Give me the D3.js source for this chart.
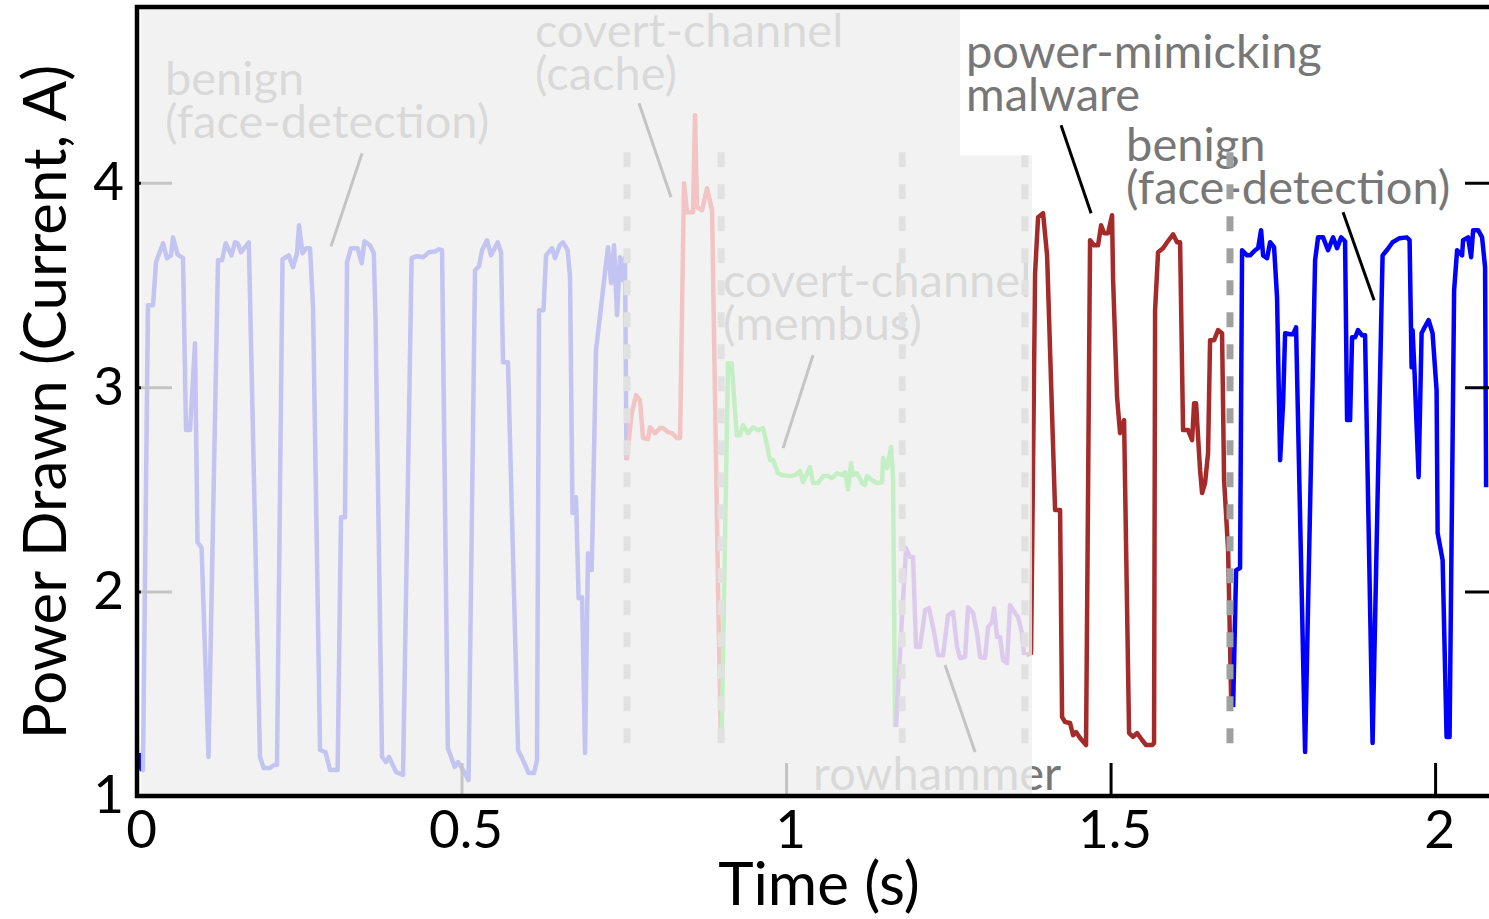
<!DOCTYPE html>
<html>
<head>
<meta charset="utf-8">
<script src="https://cdn.jsdelivr.net/npm/d3@7"></script>
<style>
	body { margin: 0; background: #fff; }
	svg { display: block; }
	text { font-family: Lato, "Open Sans", sans-serif; }
</style>
</head>
<body>
<svg id="chart" width="1489" height="919"></svg>
<script>
// [time (s), current (A)], one array per workload
const benignFirst = [
	[0.004, 1.21], [0.007, 1.13], [0.0092, 1.127], [0.0169, 3.401], [0.0247, 3.401], [0.0293, 3.611],
	[0.0401, 3.704], [0.0462, 3.631], [0.0524, 3.645], [0.0555, 3.733], [0.0624, 3.650], [0.0709, 3.631],
	[0.0755, 2.790], [0.0817, 2.790], [0.0894, 3.215], [0.0932, 2.242], [0.0995, 2.213], [0.1102, 1.191],
	[0.1248, 3.621], [0.1310, 3.621], [0.1367, 3.704], [0.1456, 3.645], [0.1510, 3.709], [0.1552, 3.704],
	[0.1602, 3.660], [0.1723, 3.709], [0.1895, 1.191], [0.1951, 1.137], [0.2049, 1.137], [0.2111, 1.152],
	[0.2157, 1.152], [0.2242, 3.626], [0.2337, 3.645], [0.2404, 3.587], [0.2465, 3.655], [0.2496, 3.792],
	[0.2550, 3.655], [0.2604, 3.680], [0.2666, 3.680], [0.2712, 3.391], [0.2820, 1.225], [0.2904, 1.215],
	[0.2974, 1.127], [0.3091, 1.127], [0.3143, 2.364], [0.3205, 2.364], [0.3236, 3.611], [0.3297, 3.680],
	[0.3399, 3.680], [0.3462, 3.606], [0.3505, 3.714], [0.3590, 3.694], [0.3649, 3.655], [0.3675, 3.328],
	[0.3775, 1.191], [0.3837, 1.166], [0.3883, 1.191], [0.3991, 1.117], [0.4099, 1.103], [0.4231, 3.631],
	[0.4311, 3.641], [0.4407, 3.636], [0.4499, 3.660], [0.4602, 3.665], [0.4646, 3.675], [0.4700, 3.670],
	[0.4789, 1.235], [0.4895, 1.142], [0.4946, 1.166], [0.5023, 1.127], [0.5108, 1.078], [0.5208, 3.572],
	[0.5270, 3.592], [0.5316, 3.670], [0.5393, 3.719], [0.5455, 3.645], [0.5558, 3.709], [0.5609, 3.660],
	[0.5639, 3.122], [0.5716, 3.122], [0.5871, 1.225], [0.5932, 1.186], [0.6035, 1.112], [0.6117, 1.112],
	[0.6163, 1.176], [0.6194, 3.377], [0.6263, 3.377], [0.6302, 3.645], [0.6394, 3.680], [0.6441, 3.631],
	[0.6513, 3.694], [0.6564, 3.709], [0.6635, 3.670], [0.6672, 3.538], [0.6710, 2.384], [0.6764, 2.462],
	[0.6804, 1.968], [0.6857, 1.973], [0.6903, 1.210], [0.6949, 2.188], [0.7006, 2.105], [0.7072, 3.181],
	[0.7149, 3.391], [0.7219, 3.587], [0.7257, 3.685], [0.7304, 3.509], [0.7350, 3.694], [0.7396, 3.352],
	[0.7442, 3.636], [0.7488, 3.523], [0.7519, 3.636], [0.7542, 2.643]
];
const cacheChannel = [
	[0.7545, 2.643], [0.7622, 2.873], [0.7689, 2.961], [0.7750, 2.936], [0.7797, 2.751], [0.7874, 2.746],
	[0.7904, 2.804], [0.7982, 2.775], [0.8059, 2.800], [0.8105, 2.800], [0.8182, 2.780], [0.8243, 2.775],
	[0.8320, 2.751], [0.8367, 2.751], [0.8428, 3.998], [0.8475, 3.856], [0.8567, 3.856], [0.8598, 4.330],
	[0.8629, 3.880], [0.8706, 3.866], [0.8783, 3.973], [0.8860, 3.866], [0.8952, 2.022], [0.8994, 1.308]
];
const membusChannel = [
	[0.9009, 1.308], [0.9106, 3.117], [0.9163, 3.117], [0.9240, 2.765], [0.9291, 2.765], [0.9337, 2.814],
	[0.9414, 2.775], [0.9492, 2.804], [0.9569, 2.790], [0.9646, 2.800], [0.9707, 2.716], [0.9753, 2.643],
	[0.9800, 2.643], [0.9877, 2.579], [0.9938, 2.570], [1.0062, 2.565], [1.0139, 2.570], [1.0216, 2.589],
	[1.0262, 2.535], [1.0370, 2.609], [1.0416, 2.531], [1.0493, 2.531], [1.0570, 2.565], [1.0647, 2.565],
	[1.0709, 2.555], [1.0786, 2.579], [1.0863, 2.570], [1.0909, 2.584], [1.0955, 2.501], [1.1002, 2.628],
	[1.1032, 2.570], [1.1094, 2.579], [1.1171, 2.531], [1.1217, 2.521], [1.1248, 2.565], [1.1325, 2.545],
	[1.1402, 2.531], [1.1479, 2.535], [1.1495, 2.653], [1.1556, 2.604], [1.1618, 2.707], [1.1649, 2.560],
	[1.1680, 1.337]
];
const rowhammer = [
	[1.1695, 1.337], [1.1787, 1.875], [1.1849, 2.213], [1.1911, 2.169], [1.1957, 2.169], [1.2003, 1.729],
	[1.2065, 1.729], [1.2142, 1.910], [1.2203, 1.919], [1.2265, 1.826], [1.2342, 1.689], [1.2419, 1.689],
	[1.2496, 1.885], [1.2573, 1.900], [1.2635, 1.729], [1.2681, 1.675], [1.2758, 1.680], [1.2804, 1.924],
	[1.2881, 1.895], [1.2943, 1.797], [1.2989, 1.680], [1.3066, 1.675], [1.3112, 1.826], [1.3174, 1.851],
	[1.3205, 1.919], [1.3251, 1.778], [1.3297, 1.778], [1.3344, 1.665], [1.3405, 1.650], [1.3451, 1.934],
	[1.3529, 1.895], [1.3575, 1.875], [1.3636, 1.797], [1.3667, 1.689]
];
const powerMimicking = [
	[1.3698, 1.689], [1.3775, 1.699], [1.3837, 3.557], [1.3883, 3.831], [1.3960, 3.851], [1.4022, 3.645],
	[1.4145, 2.399], [1.4222, 2.399], [1.4253, 1.386], [1.4299, 1.362], [1.4376, 1.357], [1.4422, 1.298],
	[1.4468, 1.313], [1.4530, 1.284], [1.4622, 1.249], [1.4684, 3.719], [1.4746, 3.694], [1.4807, 3.694],
	[1.4854, 3.792], [1.4900, 3.753], [1.4961, 3.753], [1.5023, 3.841], [1.5039, 3.523], [1.5100, 2.951],
	[1.5146, 2.775], [1.5208, 2.839], [1.5285, 1.308], [1.5347, 1.289], [1.5408, 1.308], [1.5485, 1.274],
	[1.5547, 1.249], [1.5639, 1.249], [1.5670, 1.259], [1.5686, 3.377], [1.5732, 3.660], [1.5809, 3.680],
	[1.5871, 3.709], [1.5963, 3.748], [1.6025, 3.709], [1.6071, 3.709], [1.6117, 2.790], [1.6194, 2.790],
	[1.6256, 2.741], [1.6287, 2.922], [1.6317, 2.922], [1.6379, 2.594], [1.6410, 2.482], [1.6456, 2.531],
	[1.6502, 2.677], [1.6533, 3.230], [1.6595, 3.230], [1.6656, 3.279], [1.6718, 3.264], [1.6749, 2.545],
	[1.6811, 2.203], [1.6857, 1.484]
];
const benignSecond = [
	[1.6888, 1.435], [1.6934, 2.105], [1.6995, 2.115], [1.7026, 3.670], [1.7103, 3.645], [1.7149, 3.645],
	[1.7227, 3.670], [1.7273, 3.680], [1.7319, 3.768], [1.7350, 3.645], [1.7411, 3.631], [1.7458, 3.709],
	[1.7519, 3.685], [1.7565, 3.440], [1.7612, 2.643], [1.7658, 2.922], [1.7689, 3.264], [1.7766, 3.259],
	[1.7812, 3.259], [1.7858, 3.293], [1.7997, 1.215], [1.8151, 3.621], [1.8197, 3.733], [1.8274, 3.733],
	[1.8351, 3.670], [1.8428, 3.733], [1.8490, 3.680], [1.8552, 3.733], [1.8613, 3.714], [1.8644, 2.839],
	[1.8690, 2.839], [1.8721, 3.244], [1.8767, 3.244], [1.8813, 3.279], [1.8875, 3.254], [1.8921, 3.254],
	[1.9037, 1.259], [1.9176, 3.425], [1.9191, 3.645], [1.9268, 3.675], [1.9345, 3.709], [1.9453, 3.729],
	[1.9561, 3.733], [1.9607, 3.719], [1.9638, 3.098], [1.9653, 3.279], [1.9684, 3.068], [1.9746, 2.560],
	[1.9792, 3.264], [1.9838, 3.293], [1.9900, 3.328], [1.9961, 3.264], [2.0023, 2.985], [2.0039, 2.286],
	[2.0116, 2.154], [2.0177, 1.289], [2.0223, 1.289], [2.0293, 3.474], [2.0339, 3.670], [2.0416, 3.645],
	[2.0431, 3.719], [2.0508, 3.733], [2.0555, 3.636], [2.0586, 3.768], [2.0663, 3.768], [2.0724, 3.733],
	[2.0770, 3.587], [2.0786, 2.511]
];

const seriesColors = ["#0000ff", "#ff0000", "#00ee00", "#8a2be2", "#a52a2a", "#0000ff"];
const phaseBreaks = [0.755, 0.900, 1.179, 1.368, 1.684];
const xTicks = [0, 0.5, 1, 1.5, 2];
const xTickLabels = ["0", "0.5", "1", "1.5", "2"];
const yTicks = [1, 2, 3, 4];
const yTickLabels = ["1", "2", "3", "4"];
const fadedSpan = [0.006, 1.379];

// text lines, label anchor, leader line start and end
const fadedNotes = [
	{lines: ["benign", "(face-detection)"], at: [0.0431, 4.428], from: [0.3467, 4.144], to: [0.2989, 3.689]},
	{lines: ["covert-channel", "(cache)"], at: [0.6133, 4.663], from: [0.7735, 4.389], to: [0.8228, 3.929]},
	{lines: ["covert-channel", "(membus)"], at: [0.9029, 3.440], from: [1.0416, 3.157], to: [0.9954, 2.702]},
	{lines: ["rowhammer"], at: [1.0416, 1.029], from: [1.2450, 1.641], to: [1.2912, 1.215]}
];
const boxedNote = {lines: ["power-mimicking", "malware"], at: [1.2773, 4.560], from: [1.4237, 4.281], to: [1.4700, 3.851]};
const lastNote = {lines: ["benign", "(face-detection)"], at: [1.5239, 4.106], from: [1.8582, 3.856], to: [1.9060, 3.425]};

const svg = d3.select("#chart");

const x = d3.scaleLinear().domain([0, 2.1]).range([137, 1500]);
const y = d3.scaleLinear().domain([1, 4.86]).range([796, 7]);

const line = d3.line()
.x(([t]) => x(t))
.y(([, v]) => y(v));

const traces = [benignFirst, cacheChannel, membusChannel, rowhammer, powerMimicking, benignSecond];

svg.append("g")
.selectAll("path")
.data(traces)
.enter()
.append("path")
.attr("d", line)
.attr("fill", "none")
.attr("stroke", (d, i) => seriesColors[i])
.attr("stroke-width", 4.5)
.attr("stroke-linejoin", "round");

const drawNote = (g, note) => {
	const text = g.append("text")
	.attr("x", x(note.at[0]))
	.attr("y", y(note.at[1]))
	.attr("font-size", "47px")
	.attr("fill", "#777");

	text.selectAll("tspan")
	.data(note.lines)
	.enter()
	.append("tspan")
	.attr("x", x(note.at[0]))
	.attr("dy", (d, i) => i === 0 ? 0 : 43)
	.text((d) => d);

	g.append("line")
	.attr("x1", x(note.from[0]))
	.attr("y1", y(note.from[1]))
	.attr("x2", x(note.to[0]))
	.attr("y2", y(note.to[1]))
	.attr("stroke", "#000")
	.attr("stroke-width", 3);

	return text;
};

const drawBreaks = (list) => {
	svg.append("g")
	.selectAll("line")
	.data(list)
	.enter()
	.append("line")
	.attr("x1", (d) => x(d))
	.attr("x2", (d) => x(d))
	.attr("y1", y(4.15))
	.attr("y2", y(1.245))
	.attr("stroke", "#a0a0a0")
	.attr("stroke-width", 7)
	.attr("stroke-dasharray", "15,17");
};

const notesG = svg.append("g");
fadedNotes.forEach((n) => drawNote(notesG, n));

drawBreaks(phaseBreaks.filter((d) => d < fadedSpan[1]));

// ticks point inward
const xAxis = svg.append("g")
.attr("transform", `translate(0, ${y(1)})`)
.call(d3.axisBottom(x).tickValues(xTicks).tickFormat((d, i) => xTickLabels[i]).tickSizeInner(-33).tickSizeOuter(0).tickPadding(14));

const yAxis = svg.append("g")
.attr("transform", `translate(${x(0)}, 0)`)
.call(d3.axisLeft(y).tickValues(yTicks).tickFormat((d, i) => yTickLabels[i]).tickSizeInner(-35).tickSizeOuter(0).tickPadding(13));

svg.append("g")
.attr("transform", `translate(${x(2.1)}, 0)`)
.call(d3.axisRight(y).tickValues(yTicks).tickFormat("").tickSizeInner(-35).tickSizeOuter(0));

svg.selectAll(".domain").remove();
svg.selectAll(".tick line").attr("stroke", "#000").attr("stroke-width", 3);
xAxis.selectAll("text").attr("font-size", "53px").attr("fill", "#000").attr("font-family", "Lato").attr("dx", 4);
yAxis.selectAll("text").attr("font-size", "53px").attr("fill", "#000").attr("font-family", "Lato");

// fade everything before the malware starts
svg.append("rect")
.attr("x", x(fadedSpan[0]))
.attr("y", y(4.86))
.attr("width", x(fadedSpan[1]) - x(fadedSpan[0]))
.attr("height", y(1) - y(4.86))
.attr("fill", "#efefef")
.attr("fill-opacity", 0.82);

const boxG = svg.append("g");
const boxRect = boxG.append("rect").attr("fill", "#fff");
const boxText = drawNote(boxG, boxedNote);
const bb = boxText.node().getBBox();
boxRect
.attr("x", bb.x - 6)
.attr("y", y(4.86))
.attr("width", bb.width + 12)
.attr("height", bb.y + bb.height + 34 - y(4.86));

drawNote(svg.append("g"), lastNote);
drawBreaks(phaseBreaks.filter((d) => d >= fadedSpan[1]));

// frame
svg.append("rect")
.attr("x", x(0))
.attr("y", y(4.86))
.attr("width", x(2.1) - x(0))
.attr("height", y(1) - y(4.86))
.attr("fill", "none")
.attr("stroke", "#000")
.attr("stroke-width", 4.5);

svg.append("text")
.attr("x", 819)
.attr("y", 905)
.attr("text-anchor", "middle")
.attr("font-size", "60px")
.text("Time (s)");

svg.append("text")
.attr("transform", "translate(66, 402) rotate(-90)")
.attr("text-anchor", "middle")
.attr("font-size", "60px")
.text("Power Drawn (Current, A)");
</script>
</body>
</html>
